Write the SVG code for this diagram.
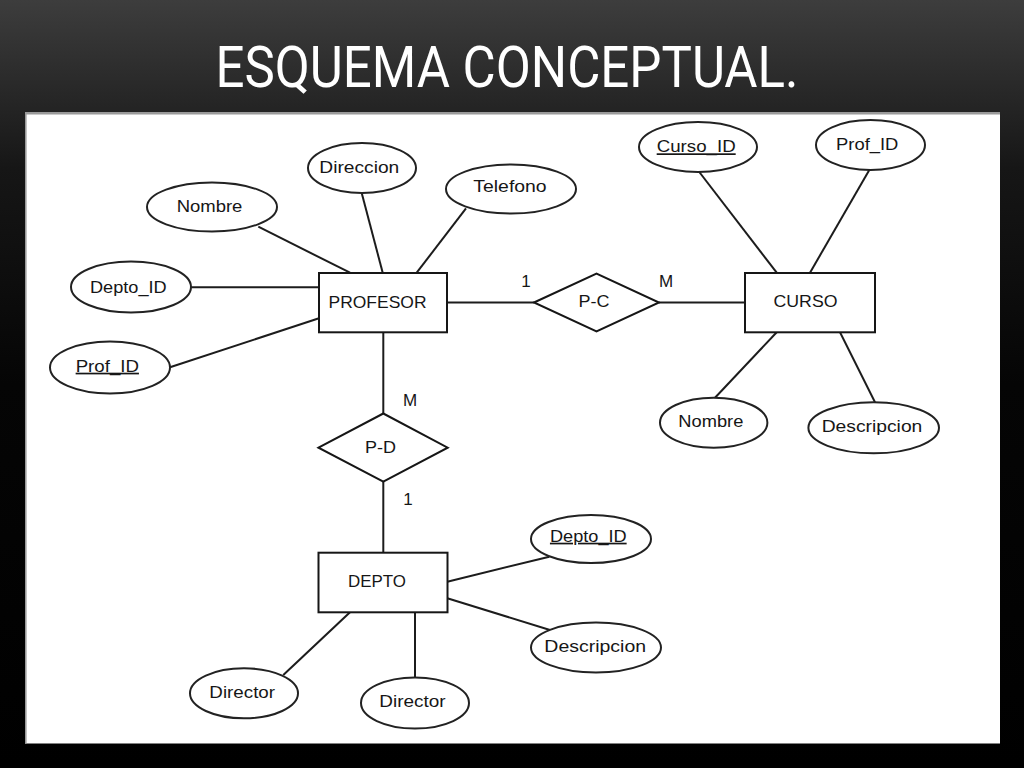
<svg xmlns="http://www.w3.org/2000/svg" width="1024" height="768" viewBox="0 0 1024 768">
  <defs>
    <linearGradient id="bg" x1="0" y1="0" x2="0" y2="1">
      <stop offset="0" stop-color="#3d3d3d"/>
      <stop offset="0.13" stop-color="#262626"/>
      <stop offset="0.22" stop-color="#161616"/>
      <stop offset="0.5" stop-color="#050505"/>
      <stop offset="1" stop-color="#000000"/>
    </linearGradient>
    <style>
      .title { font-family: Roboto, "Liberation Sans", sans-serif; font-size: 58px; fill: #ffffff; }
      .ent { fill: #ffffff; stroke: #161616; stroke-width: 2; }
      .attr { fill: #ffffff; stroke: #222222; stroke-width: 2; }
      .lbl { font-family: "Liberation Sans", Arial, sans-serif; font-size: 17px; fill: #161616; text-anchor: middle; }
      .key { text-decoration: underline; }
      .card { font-family: "Liberation Sans", Arial, sans-serif; font-size: 17px; fill: #161616; text-anchor: middle; }
      .conn line { stroke: #1c1c1c; stroke-width: 2; }
    </style>
  </defs>

  <rect x="0" y="0" width="1024" height="768" fill="url(#bg)"/>
  <text class="title" x="215.5" y="86.5" textLength="583" lengthAdjust="spacingAndGlyphs">ESQUEMA CONCEPTUAL.</text>

  <!-- panel -->
  <rect x="25" y="112" width="975" height="631.5" fill="#ffffff"/>
  <line x1="25" y1="113.3" x2="1000" y2="113.3" stroke="#9a9a9a" stroke-width="2.6"/>
  <line x1="25.8" y1="112" x2="25.8" y2="743.5" stroke="#9a9a9a" stroke-width="1.6"/>

  <g id="connectors" class="conn">
    <line x1="258.3" y1="226.7" x2="350" y2="272.7"/>
    <line x1="361.7" y1="193" x2="382.7" y2="272.7"/>
    <line x1="466" y1="208.3" x2="416.7" y2="272.7"/>
    <line x1="191" y1="287.3" x2="319" y2="287.3"/>
    <line x1="170" y1="367.3" x2="319" y2="318.3"/>
    <line x1="447" y1="302.5" x2="534" y2="302.5"/>
    <line x1="659" y1="302.5" x2="745" y2="302.5"/>
    <line x1="699.3" y1="172" x2="776.7" y2="272.7"/>
    <line x1="869.3" y1="170" x2="810" y2="272.7"/>
    <line x1="776.7" y1="332.3" x2="715" y2="397.7"/>
    <line x1="840" y1="332.3" x2="875" y2="402.3"/>
    <line x1="383.3" y1="332.3" x2="383.3" y2="413.5"/>
    <line x1="383.3" y1="481.7" x2="383.3" y2="552.7"/>
    <line x1="447.3" y1="581.7" x2="549.3" y2="556.7"/>
    <line x1="447.3" y1="598.3" x2="550" y2="630"/>
    <line x1="350" y1="612.3" x2="283.3" y2="675"/>
    <line x1="415" y1="612.3" x2="415" y2="677.5"/>
  </g>

  <g id="cardinalities">
    <text class="card" x="526" y="286.7">1</text>
    <text class="card" x="666" y="286.7">M</text>
    <text class="card" x="410" y="405.5">M</text>
    <text class="card" x="408" y="505">1</text>
  </g>

  <!-- entities -->
  <g id="profesor">
    <rect class="ent" x="319" y="273" width="128" height="59.3"/>
    <text class="lbl" x="377.5" y="308.3" textLength="98" lengthAdjust="spacingAndGlyphs">PROFESOR</text>
  </g>
  <g id="curso">
    <rect class="ent" x="745" y="273" width="130" height="59.3"/>
    <text class="lbl" x="805.5" y="307.3" textLength="64" lengthAdjust="spacingAndGlyphs">CURSO</text>
  </g>
  <g id="depto">
    <rect class="ent" x="318.5" y="552.7" width="129" height="59.6"/>
    <text class="lbl" x="377" y="586.7" textLength="58" lengthAdjust="spacingAndGlyphs">DEPTO</text>
  </g>

  <!-- relationships -->
  <g id="rel-pc">
    <polygon class="ent" points="534,302.5 596.5,273.5 659,302.5 596.5,331.5"/>
    <text class="lbl" x="594" y="307.3" textLength="31" lengthAdjust="spacingAndGlyphs">P-C</text>
  </g>
  <g id="rel-pd">
    <polygon class="ent" points="318.5,447.7 383.3,413.5 447.7,447.7 383.3,481.7"/>
    <text class="lbl" x="380.5" y="452.7" textLength="31" lengthAdjust="spacingAndGlyphs">P-D</text>
  </g>

  <!-- attributes of PROFESOR -->
  <g id="prof-nombre">
    <ellipse class="attr" cx="212" cy="207" rx="65" ry="24.5"/>
    <text class="lbl" x="209.5" y="212.3" textLength="65.7" lengthAdjust="spacingAndGlyphs">Nombre</text>
  </g>
  <g id="prof-direccion">
    <ellipse class="attr" cx="362" cy="168" rx="54" ry="25"/>
    <text class="lbl" x="359.3" y="173.3" textLength="80" lengthAdjust="spacingAndGlyphs">Direccion</text>
  </g>
  <g id="prof-telefono">
    <ellipse class="attr" cx="511" cy="189" rx="65" ry="24.5"/>
    <text class="lbl" x="510" y="192.3" textLength="73.3" lengthAdjust="spacingAndGlyphs">Telefono</text>
  </g>
  <g id="prof-depto-id">
    <ellipse class="attr" cx="131" cy="287" rx="60" ry="25.5"/>
    <text class="lbl" x="128.3" y="293.3" textLength="76.7" lengthAdjust="spacingAndGlyphs">Depto_ID</text>
  </g>
  <g id="prof-prof-id">
    <ellipse class="attr" cx="110" cy="367.5" rx="60" ry="26"/>
    <text class="lbl key" x="107.3" y="371.7" textLength="63.3" lengthAdjust="spacingAndGlyphs">Prof_ID</text>
  </g>

  <!-- attributes of CURSO -->
  <g id="curso-curso-id">
    <ellipse class="attr" cx="698" cy="147" rx="59" ry="25"/>
    <text class="lbl key" x="696.2" y="152.3" textLength="79" lengthAdjust="spacingAndGlyphs">Curso_ID</text>
  </g>
  <g id="curso-prof-id">
    <ellipse class="attr" cx="870.5" cy="145" rx="54.5" ry="25"/>
    <text class="lbl" x="867.2" y="150" textLength="62.3" lengthAdjust="spacingAndGlyphs">Prof_ID</text>
  </g>
  <g id="curso-nombre">
    <ellipse class="attr" cx="713.7" cy="422.7" rx="53.7" ry="25"/>
    <text class="lbl" x="710.8" y="426.7" textLength="65" lengthAdjust="spacingAndGlyphs">Nombre</text>
  </g>
  <g id="curso-descripcion">
    <ellipse class="attr" cx="873.7" cy="427.8" rx="65.3" ry="25.5"/>
    <text class="lbl" x="872" y="432.3" textLength="100.7" lengthAdjust="spacingAndGlyphs">Descripcion</text>
  </g>

  <!-- attributes of DEPTO -->
  <g id="depto-depto-id">
    <ellipse class="attr" cx="591" cy="539" rx="60" ry="24"/>
    <text class="lbl key" x="588.3" y="541.7" textLength="76.7" lengthAdjust="spacingAndGlyphs">Depto_ID</text>
  </g>
  <g id="depto-descripcion">
    <ellipse class="attr" cx="596" cy="647.5" rx="65" ry="25"/>
    <text class="lbl" x="595.2" y="651.7" textLength="101.7" lengthAdjust="spacingAndGlyphs">Descripcion</text>
  </g>
  <g id="depto-director-1">
    <ellipse class="attr" cx="244" cy="693.3" rx="54" ry="25"/>
    <text class="lbl" x="242.2" y="698.3" textLength="65.7" lengthAdjust="spacingAndGlyphs">Director</text>
  </g>
  <g id="depto-director-2">
    <ellipse class="attr" cx="415" cy="703" rx="54" ry="25.5"/>
    <text class="lbl" x="412.5" y="707.3" textLength="66.3" lengthAdjust="spacingAndGlyphs">Director</text>
  </g>
</svg>
